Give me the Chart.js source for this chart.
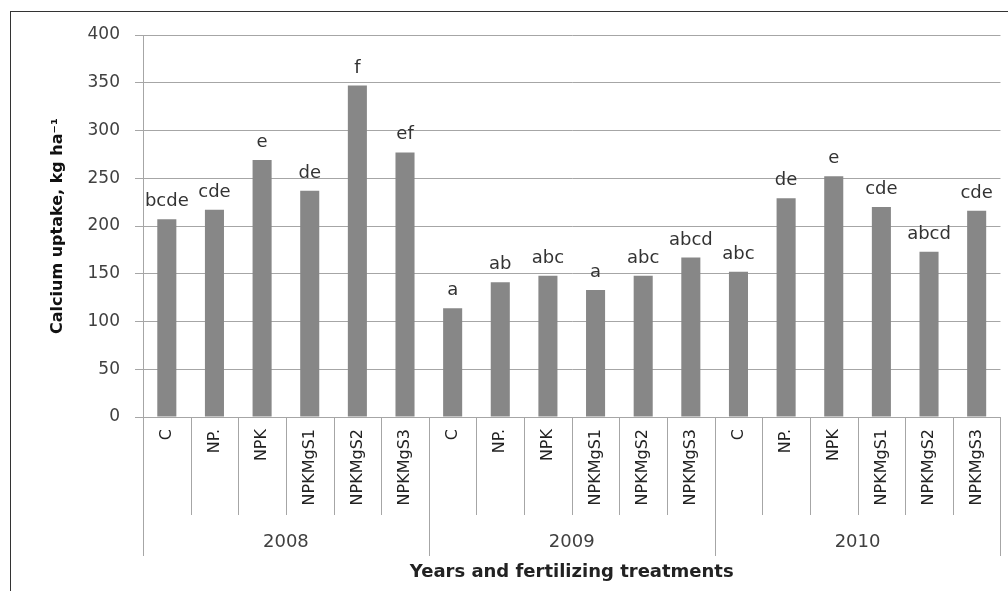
<!DOCTYPE html>
<html>
<head>
<meta charset="utf-8">
<script src="https://cdn.jsdelivr.net/npm/chart.js@4.4.1/dist/chart.umd.min.js"></script>
<style>
  html, body { margin: 0; padding: 0; background: #fff; overflow: hidden; }
  #frame { position: absolute; left: 10px; top: 11px; width: 1100px; height: 700px;
           border-left: 1px solid #333; border-top: 1px solid #333; }
  #chart { position: absolute; left: 0; top: 0; }
</style>
</head>
<body>
<div id="frame"></div>
<canvas id="chart" width="1008" height="591"></canvas>
<script>
const years = ["2008", "2009", "2010"];
const treatments = ["C", "NP.", "NPK", "NPKMgS1", "NPKMgS2", "NPKMgS3"];
const uptake = [207, 217, 269, 237, 347, 277,
                114, 141, 148, 133, 148, 167,
                152, 229, 252, 220, 173, 216];
const letters = ["bcde", "cde", "e", "de", "f", "ef",
                 "a", "ab", "abc", "a", "abc", "abcd",
                 "abc", "de", "e", "cde", "abcd", "cde"];
const yMin = 0, yMax = 400, yStep = 50;

const labels = years.flatMap(() => treatments);
const font = "'DejaVu Sans', sans-serif";
const lineGray = "#a6a6a6";

// letters above the bars
const letterLabels = {
  id: "letterLabels",
  afterDatasetsDraw(chart) {
    const ctx = chart.ctx;
    const bars = chart.getDatasetMeta(0).data;
    ctx.save();
    ctx.font = "18px " + font;
    ctx.fillStyle = "#333";
    ctx.textAlign = "center";
    ctx.textBaseline = "alphabetic";
    bars.forEach((bar, i) => {
      ctx.fillText(letters[i], bar.x, bar.y - 13);
    });
    ctx.restore();
  }
};

// second row of the category axis: separators + year names
const yearAxis = {
  id: "yearAxis",
  afterDraw(chart) {
    const ctx = chart.ctx;
    const x = chart.scales.x;
    const n = labels.length;
    const per = treatments.length;
    const half = (x.getPixelForValue(1) - x.getPixelForValue(0)) / 2;
    const edge = (i) => i < n ? x.getPixelForValue(i) - half : x.getPixelForValue(n - 1) + half;
    const top = x.top;
    ctx.save();
    ctx.strokeStyle = lineGray;
    ctx.lineWidth = 1;
    for (let i = 0; i <= n; i++) {
      const px = Math.round(edge(i)) + 0.5;
      ctx.beginPath();
      ctx.moveTo(px, top);
      ctx.lineTo(px, top + (i % per === 0 ? 139 : 98));
      ctx.stroke();
    }
    ctx.font = "18px " + font;
    ctx.fillStyle = "#404040";
    ctx.textAlign = "center";
    ctx.textBaseline = "middle";
    years.forEach((yr, k) => {
      const cx = (edge(k * per) + edge((k + 1) * per)) / 2;
      ctx.fillText(yr, cx, top + 125);
    });
    ctx.restore();
  }
};

new Chart(document.getElementById("chart"), {
  type: "bar",
  data: {
    labels: labels,
    datasets: [{
      data: uptake,
      backgroundColor: "#878787",
      borderWidth: 0,
      barPercentage: 0.4,
      categoryPercentage: 1.0
    }]
  },
  options: {
    responsive: false,
    animation: false,
    layout: { padding: { left: 48, top: 35, right: 5, bottom: 0 } },
    plugins: {
      legend: { display: false },
      tooltip: { enabled: false }
    },
    scales: {
      x: {
        afterFit(scale) { scale.height = 174; },
        grid: { display: false, drawTicks: false },
        border: { display: true, color: lineGray, width: 1 },
        ticks: {
          autoSkip: false,
          minRotation: 90,
          maxRotation: 90,
          padding: 12,
          color: "#222",
          font: { family: font, size: 16 }
        },
        title: {
          display: true,
          text: "Years and fertilizing treatments",
          color: "#222",
          font: { family: font, size: 18, weight: "bold" },
          padding: { top: 0, bottom: 8 }
        }
      },
      y: {
        min: yMin,
        max: yMax,
        afterFit(scale) { scale.width = 95; },
        grid: { color: lineGray, tickLength: 8, drawTicks: true },
        border: { display: true, color: lineGray, width: 1 },
        ticks: {
          stepSize: yStep,
          padding: 15,
          color: "#404040",
          font: { family: font, size: 17 }
        },
        title: {
          display: true,
          text: "Calcium uptake, kg ha\u207B\u00B9",
          color: "#111",
          font: { family: font, size: 16, weight: "bold" },
          padding: { top: 0, bottom: 0 }
        }
      }
    }
  },
  plugins: [letterLabels, yearAxis]
});
</script>
</body>
</html>
